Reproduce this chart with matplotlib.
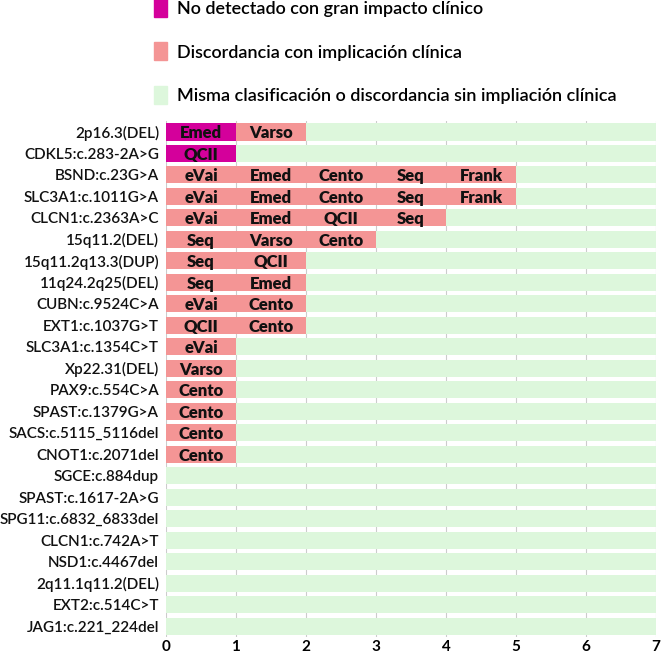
import matplotlib
matplotlib.use('Agg')
import matplotlib.pyplot as plt
from matplotlib.patches import Patch

variants = [
    "2p16.3(DEL)", "CDKL5:c.283-2A>G", "BSND:c.23G>A", "SLC3A1:c.1011G>A",
    "CLCN1:c.2363A>C", "15q11.2(DEL)", "15q11.2q13.3(DUP)", "11q24.2q25(DEL)",
    "CUBN:c.9524C>A", "EXT1:c.1037G>T", "SLC3A1:c.1354C>T", "Xp22.31(DEL)",
    "PAX9:c.554C>A", "SPAST:c.1379G>A", "SACS:c.5115_5116del", "CNOT1:c.2071del",
    "SGCE:c.884dup", "SPAST:c.1617-2A>G", "SPG11:c.6832_6833del", "CLCN1:c.742A>T",
    "NSD1:c.4467del", "2q11.1q11.2(DEL)", "EXT2:c.514C>T", "JAG1:c.221_224del",
]
# tools per variant, in order; "N" = no detectado con gran impacto, "D" = discordancia
tools = [
    ["Emed", "Varso"], ["QCII"], ["eVai", "Emed", "Cento", "Seq", "Frank"],
    ["eVai", "Emed", "Cento", "Seq", "Frank"], ["eVai", "Emed", "QCII", "Seq"],
    ["Seq", "Varso", "Cento"], ["Seq", "QCII"], ["Seq", "Emed"], ["eVai", "Cento"],
    ["QCII", "Cento"], ["eVai"], ["Varso"], ["Cento"], ["Cento"], ["Cento"], ["Cento"],
    [], [], [], [], [], [], [], [],
]
kinds = [
    ["N", "D"], ["N"], ["D"] * 5, ["D"] * 5, ["D"] * 4, ["D"] * 3, ["D"] * 2,
    ["D"] * 2, ["D"] * 2, ["D"] * 2, ["D"], ["D"], ["D"], ["D"], ["D"], ["D"],
    [], [], [], [], [], [], [], [],
]
N_TOOLS = 7

C_N = "#D4009B"
C_D = "#F49595"
C_OK = "#DDF7DC"

plt.rcParams['font.family'] = ["Lato", "DejaVu Sans"]

fig = plt.figure(figsize=(6.61, 6.54), dpi=100)
ax = fig.add_axes([0.2511, 0.0262, 0.7413, 0.7885])

for i, name in enumerate(variants):
    for j in range(N_TOOLS):
        if j < len(tools[i]):
            c = C_N if kinds[i][j] == "N" else C_D
            ax.barh(i, 1, left=j, height=0.8, color=c, zorder=2)
            ax.text(j + 0.5, i + 0.06, tools[i][j], ha="center", va="center",
                    fontsize=12, fontweight="heavy", color="#111111", zorder=3)
        else:
            ax.barh(i, 1, left=j, height=0.8, color=C_OK, zorder=2)

ax.set_xlim(0, N_TOOLS)
ax.set_ylim(len(variants) - 0.5, -0.5)
ax.set_yticks(range(len(variants)))
ax.set_yticklabels(variants, fontsize=11, color="#111111", fontweight="semibold")
ax.set_xticks(range(N_TOOLS + 1))
ax.tick_params(axis="x", labelsize=11, length=0, pad=2)
ax.tick_params(axis="y", length=0, pad=5)
for lbl in ax.get_xticklabels():
    lbl.set_fontweight("bold")
ax.xaxis.grid(True, color="#cccccc", linewidth=0.8, zorder=0)
for s in ax.spines.values():
    s.set_visible(False)

handles = [Patch(color=C_N), Patch(color=C_D), Patch(color=C_OK)]
labels = ["No detectado con gran impacto clínico",
          "Discordancia con implicación clínica",
          "Misma clasificación o discordancia sin impliación clínica"]
leg = fig.legend(handles, labels, loc="upper left", bbox_to_anchor=(0.222, 1.013),
                 frameon=False, fontsize=13, handlelength=0.7, handleheight=1.15,
                 handletextpad=0.6, labelspacing=1.42, borderaxespad=0)
for t in leg.get_texts():
    t.set_fontweight("semibold")

plt.savefig("out.png", dpi=100)
